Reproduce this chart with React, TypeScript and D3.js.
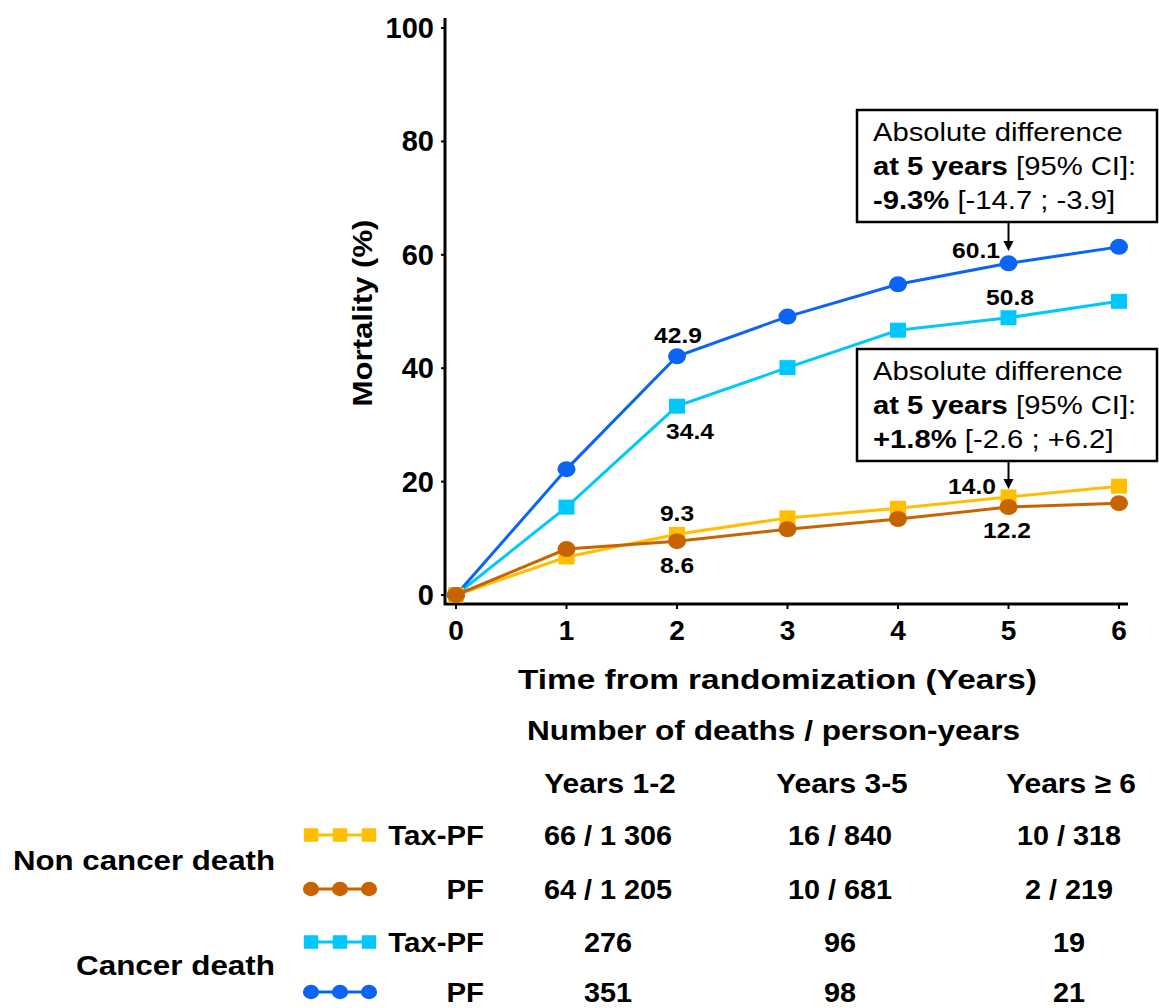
import React from "react";
import * as d3 from "d3";

const years = [0, 1, 2, 3, 4, 5, 6];
const yTicks = [0, 20, 40, 60, 80, 100];
const pfCancer = [0, 22.2, 42.1, 49.1, 54.8, 58.5, 61.4];
const taxCancer = [0, 15.5, 33.3, 40.1, 46.7, 48.9, 51.8];
const taxNonCancer = [0, 6.7, 10.7, 13.6, 15.3, 17.3, 19.2];
const pfNonCancer = [0, 8.1, 9.5, 11.6, 13.4, 15.5, 16.2];

const periods = ["Years 1-2", "Years 3-5", "Years \u2265 6"];
const groups = ["Non cancer death", "Cancer death"];
const arms = ["Tax-PF", "PF", "Tax-PF", "PF"];
const deaths = [
  ["66 / 1 306", "16 / 840", "10 / 318"],
  ["64 / 1 205", "10 / 681", "2 / 219"],
  ["276", "96", "19"],
  ["351", "98", "21"],
];

const FONT = "'Liberation Sans', Arial, Helvetica, sans-serif";

type Series = { name: string; values: number[]; color: string; shape: "square" | "circle" };
const series: Series[] = [
  { name: "Tax-PF cancer", values: taxCancer, color: "#00c8ff", shape: "square" },
  { name: "PF cancer", values: pfCancer, color: "#0a64f5", shape: "circle" },
  { name: "Tax-PF non cancer", values: taxNonCancer, color: "#ffbf00", shape: "square" },
  { name: "PF non cancer", values: pfNonCancer, color: "#c86400", shape: "circle" },
];
const legendOrder = [2, 3, 0, 1];

const x = d3.scaleLinear().domain([0, 6]).range([456, 1119]);
const y = d3.scaleLinear().domain([0, 100]).range([595, 28]);

function Marker({ cx, cy, shape, color, s = 1 }: { cx: number; cy: number; shape: string; color: string; s?: number }) {
  if (shape === "square")
    return <rect x={cx - 8 * s} y={cy - 7.5 * s} width={16 * s} height={15 * s} fill={color} />;
  return <ellipse cx={cx} cy={cy} rx={9 * s} ry={8 * s} fill={color} />;
}

function SText({ x: tx, y: ty, sx = 1, anchor = "start", size, weight = "bold", children }: any) {
  return (
    <text
      transform={`translate(${tx},${ty}) scale(${sx},1)`}
      textAnchor={anchor}
      fontSize={size}
      fontWeight={weight}
      fontFamily={FONT}
      fill="#000"
    >
      {children}
    </text>
  );
}

function Box({ top, line3Bold, line3Rest, arrowTo }: { top: number; line3Bold: string; line3Rest: string; arrowTo: number }) {
  const left = 857, right = 1157, bottom = top + 112;
  const ax = x(5);
  return (
    <g>
      <rect x={left} y={top} width={right - left} height={bottom - top} fill="#fff" stroke="#000" strokeWidth={2.5} />
      <SText x={873} y={top + 31} sx={1.17} size={25} weight="normal">Absolute difference</SText>
      <text transform={`translate(873,${top + 65}) scale(1.17,1)`} fontSize={25} fontFamily={FONT}>
        <tspan fontWeight="bold">at 5 years</tspan>
        <tspan> [95% CI]:</tspan>
      </text>
      <text transform={`translate(873,${top + 99}) scale(1.17,1)`} fontSize={25} fontFamily={FONT}>
        <tspan fontWeight="bold">{line3Bold}</tspan>
        <tspan> {line3Rest}</tspan>
      </text>
      <line x1={ax} x2={ax} y1={bottom} y2={arrowTo - 8} stroke="#000" strokeWidth={2} />
      <path d={`M${ax - 5},${arrowTo - 10} L${ax + 5},${arrowTo - 10} L${ax},${arrowTo} Z`} fill="#000" />
    </g>
  );
}

export default function App() {
  const line = d3
    .line<number>()
    .x((_, i) => x(years[i]))
    .y((d) => y(d));

  const rowY = [835, 889, 942, 992];
  const colX = [608, 840, 1069];

  return (
    <svg width={1159} height={1008} style={{ position: "absolute", left: 0, top: 0, background: "#fff" }}>
      <rect width={1159} height={1008} fill="#fff" />
      {/* axes */}
      <line x1={445} x2={445} y1={18} y2={605} stroke="#000" strokeWidth={3} />
      <line x1={444} x2={1128} y1={604} y2={604} stroke="#000" strokeWidth={3} />
      {yTicks.map((t) => (
        <g key={t}>
          <line x1={441} x2={445} y1={y(t)} y2={y(t)} stroke="#000" strokeWidth={2} />
          <SText x={434} y={y(t) + 10} anchor="end" size={29}>{t}</SText>
        </g>
      ))}
      {years.map((t) => (
        <g key={t}>
          <line x1={x(t)} x2={x(t)} y1={604} y2={609} stroke="#000" strokeWidth={2} />
          <SText x={x(t)} y={640} anchor="middle" size={28}>{t}</SText>
        </g>
      ))}
      <text
        transform="translate(372,313) rotate(-90)"
        textAnchor="middle"
        fontSize={28}
        fontWeight="bold"
        fontFamily={FONT}
        textLength={187}
        lengthAdjust="spacingAndGlyphs"
      >
        Mortality (%)
      </text>
      <text x={777.5} y={689} textAnchor="middle" fontSize={28} fontWeight="bold" fontFamily={FONT} textLength={519} lengthAdjust="spacingAndGlyphs">
        Time from randomization (Years)
      </text>

      {/* series */}
      {series.map((s) => (
        <g key={s.name}>
          <path d={line(s.values) || ""} fill="none" stroke={s.color} strokeWidth={3} />
          {s.values.map((v, i) => (
            <Marker key={i} cx={x(years[i])} cy={y(v)} shape={s.shape} color={s.color} />
          ))}
        </g>
      ))}

      {/* value labels */}
      <SText x={976} y={258} anchor="middle" sx={1.12} size={22}>60.1</SText>
      <SText x={1010} y={305} anchor="middle" sx={1.12} size={22}>50.8</SText>
      <SText x={678} y={343} anchor="middle" sx={1.12} size={22}>42.9</SText>
      <SText x={690} y={439} anchor="middle" sx={1.12} size={22}>34.4</SText>
      <SText x={677} y={521} anchor="middle" sx={1.12} size={22}>9.3</SText>
      <SText x={677} y={573} anchor="middle" sx={1.12} size={22}>8.6</SText>
      <SText x={972} y={494} anchor="middle" sx={1.12} size={22}>14.0</SText>
      <SText x={1007} y={538} anchor="middle" sx={1.12} size={22}>12.2</SText>

      <Box top={110} line3Bold="-9.3%" line3Rest="[-14.7 ; -3.9]" arrowTo={251} />
      <Box top={349} line3Bold="+1.8%" line3Rest="[-2.6 ; +6.2]" arrowTo={489} />

      {/* table */}
      <text x={773.5} y={740} textAnchor="middle" fontSize={28} fontWeight="bold" fontFamily={FONT} textLength={493} lengthAdjust="spacingAndGlyphs">
        Number of deaths / person-years
      </text>
      {periods.map((p, j) => (
        <SText key={p} x={colX[j] + 2} y={793} anchor="middle" sx={1.07} size={28}>{p}</SText>
      ))}
      <text x={275} y={870} textAnchor="end" fontSize={28} fontWeight="bold" fontFamily={FONT} textLength={262} lengthAdjust="spacingAndGlyphs">
        {groups[0]}
      </text>
      <text x={275} y={975} textAnchor="end" fontSize={28} fontWeight="bold" fontFamily={FONT} textLength={199} lengthAdjust="spacingAndGlyphs">
        {groups[1]}
      </text>
      {legendOrder.map((si, r) => {
        const s = series[si];
        const cy = rowY[r];
        return (
          <g key={r}>
            <line x1={304} x2={376} y1={cy} y2={cy} stroke={s.color} strokeWidth={3} />
            {[311, 340, 369].map((mx) => (
              <Marker key={mx} cx={mx} cy={cy} shape={s.shape} color={s.color} s={0.9} />
            ))}
            <SText x={484} y={cy + 10} anchor="end" sx={1.05} size={28}>{arms[r]}</SText>
            {deaths[r].map((dv, j) => (
              <SText key={j} x={colX[j]} y={cy + 10} anchor="middle" sx={1.03} size={28}>{dv}</SText>
            ))}
          </g>
        );
      })}
    </svg>
  );
}
